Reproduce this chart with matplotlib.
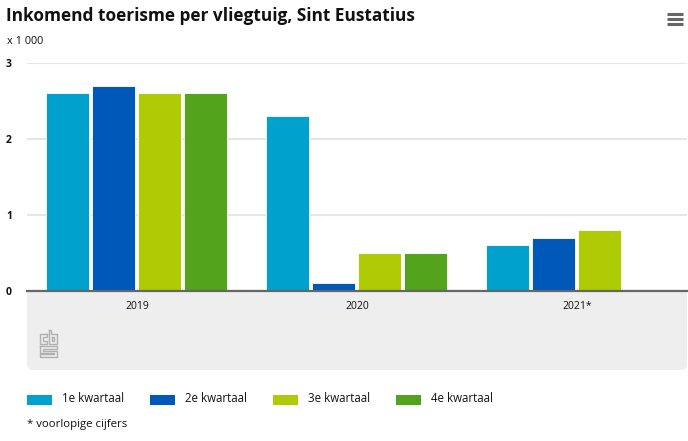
import numpy as np
import matplotlib
matplotlib.use('Agg')
import matplotlib.pyplot as plt
from matplotlib.patches import FancyBboxPatch, Rectangle

W, H = 688, 441

years = ['2019', '2020', '2021*']
quarters = ['1e kwartaal', '2e kwartaal', '3e kwartaal', '4e kwartaal']
q1 = [2.6, 2.3, 0.6]
q2 = [2.7, 0.1, 0.7]
q3 = [2.6, 0.5, 0.8]
q4 = [2.6, 0.5, np.nan]
colors = ['#00a1cd', '#0058b8', '#afcb05', '#53a31d']

plt.rcParams['font.family'] = ['Open Sans', 'DejaVu Sans']
txt = '#111111'

fig = plt.figure(figsize=(W / 100, H / 100), dpi=100)

# overlay in pixel coordinates for everything outside the plot itself
bg = fig.add_axes([0, 0, 1, 1], zorder=0)
bg.set_xlim(0, W)
bg.set_ylim(H, 0)
bg.axis('off')

# grey panel under the axis, only the bottom corners are round
bg.add_patch(FancyBboxPatch((27, 280), 660, 90, boxstyle='round,pad=0,rounding_size=6',
                            fc='#eeeeee', ec='none'))
bg.add_patch(Rectangle((0, 270), W, 21, fc='white', ec='none'))

ax = fig.add_axes([27 / W, 1 - 291 / H, 660 / W, 228 / H], zorder=1)
ax.patch.set_alpha(0)
x = np.arange(len(years))
pitch = 46 / 220
for i, vals in enumerate([q1, q2, q3, q4]):
    ax.bar(x - 1 / 220 + (i - 1.5) * pitch, vals, width=43 / 220, color=colors[i],
           edgecolor='white', linewidth=0.6, zorder=3)

ax.set_xlim(-0.5, 2.5)
ax.set_ylim(0, 3)
ax.set_yticks([0, 1, 2, 3])
ax.set_xticks(x)
ax.set_xticklabels(years, fontsize=7.5, color=txt)
ax.tick_params(axis='x', length=0, pad=7)
ax.tick_params(axis='y', length=0, pad=0)
for t in ax.get_yticklabels():
    t.set_fontsize(7.5)
    t.set_fontweight('bold')
    t.set_color(txt)
    t.set_ha('left')
    t.set_x(-21 / 660)
ax.grid(axis='y', color='#e6e6e6', linewidth=1.5, zorder=0)
for s in ['top', 'left', 'right']:
    ax.spines[s].set_visible(False)
ax.spines['bottom'].set_color('#666666')
ax.spines['bottom'].set_linewidth(1.6)
ax.spines['bottom'].set_zorder(5)

bg.text(6, 16, 'Inkomend toerisme per vliegtuig, Sint Eustatius',
        fontsize=12.4, fontweight='bold', color='#111111', va='center', family='Open Sans')
bg.text(7, 41, 'x 1 000', fontsize=7.8, color=txt, va='center')

# menu icon
for py in [13.5, 18.5, 23.5]:
    bg.plot([667, 683], [py, py], color='#666666', lw=2.2, solid_capstyle='butt')

# cbs logo, drawn as grey outlines
logo = [
    [(47, 334), (39.5, 334), (39.5, 344), (47, 344), (47, 341), (42.5, 341), (42.5, 337), (47, 337), (47, 334)],
    [(48.5, 329.5), (51, 329.5), (51, 334), (57, 334), (57, 344), (48.5, 344), (48.5, 329.5)],
    [(51.5, 337), (54, 337), (54, 341), (51.5, 341), (51.5, 337)],
    [(39.5, 346), (57, 346), (57, 349), (43, 349), (43, 350.5), (57, 350.5), (57, 357), (39.5, 357),
     (39.5, 354), (53.5, 354), (53.5, 352.5), (39.5, 352.5), (39.5, 346)],
]
for seg in logo:
    xs, ys = zip(*seg)
    bg.plot(xs, ys, color='#b0b0b0', lw=1.0)

# legend
for i, q in enumerate(quarters):
    left = 27 + 123 * i
    bg.add_patch(Rectangle((left, 395), 25, 10, fc=colors[i], ec='none'))
    bg.text(left + 35, 399, q, fontsize=8.3, color=txt, va='center')

bg.text(27, 424, '* voorlopige cijfers', fontsize=8.2, color=txt, va='center')

fig.savefig('out.png', dpi=100)
